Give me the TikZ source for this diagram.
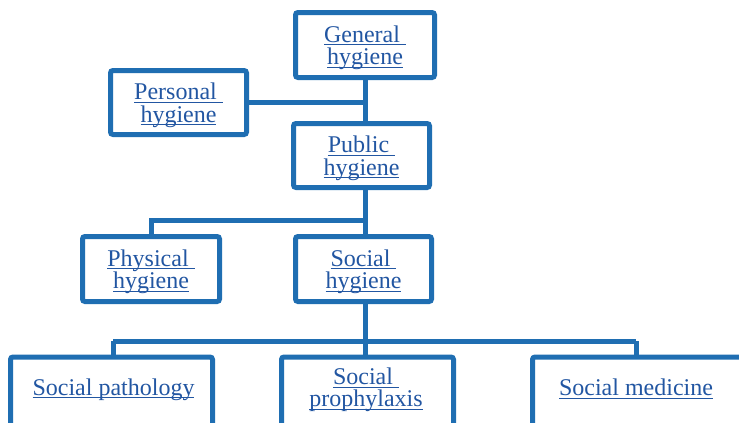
\documentclass[tikz,border=0pt]{standalone}
\usepackage{fontspec}
\setmainfont{Liberation Serif}
\usepackage{tikz}
\usetikzlibrary{positioning, calc}

\definecolor{boxblue}{RGB}{31,110,178}
\definecolor{textblue}{RGB}{34,86,162}

\tikzset{
  hbox/.style={draw=boxblue, line width=5pt, fill=white, rounded corners=2.5pt,
    inner sep=0pt, align=center, text=textblue,
    font=\fontsize{24}{22.5}\selectfont},
  htxt/.style={inner sep=0pt, align=center, text=textblue,
    font=\fontsize{24}{22.5}\selectfont},
  link/.style={draw=boxblue, line width=5pt}
}
% gạch chân sát chân chữ
\newsavebox{\hlbox}
\newcommand{\hl}[1]{\leavevmode\sbox{\hlbox}{#1}\rlap{\rule[-3pt]{\wd\hlbox}{0.9pt}}\usebox{\hlbox}}
% nhãn hai dòng, hạ thấp một chút trong ô
\newcommand{\twoline}[2]{\rule{0pt}{22pt}\hl{#1\ }\\\hl{#2}}

\begin{document}
\begin{tikzpicture}[x=1pt, y=-1pt]

        % Khung trang
        \useasboundingbox (0,0) rectangle (739,423);
        \clip (0,0) rectangle (739,423);

        % Các ô phía trên
        \node[hbox, minimum width=139, minimum height=65] (gen) at (365,45) {\twoline{General}{hygiene}}; % General
        \node[hbox, minimum width=136, minimum height=64] (pers) at (178.5,102.5) {\twoline{Personal}{hygiene}}; % Personal
        \node[hbox, minimum width=136, minimum height=64] (pub) at (361.5,155.5) {\twoline{Public}{hygiene}}; % Public
        \node[hbox, minimum width=137, minimum height=65] (phys) at (151,269) {\twoline{Physical}{hygiene}}; % Physical
        \node[hbox, minimum width=136, minimum height=65] (soc) at (363.5,269) {\twoline{Social}{hygiene}}; % Social

        % Các ô phía dưới (bị cắt ở mép trang)
        \node[hbox, anchor=north, minimum width=202, minimum height=100] (pathbox) at (111.5,354.5) {};
        \node[hbox, anchor=north, minimum width=172, minimum height=100] (prophbox) at (367.5,354.5) {};
        \node[hbox, anchor=north, minimum width=225, minimum height=100] (medbox) at (645,354.5) {};
        \node[htxt] (path) at (113.5,389.5) {\hl{Social pathology}};
        \node[htxt] (proph) at (366,390) {\hl{Social\ }\\\hl{prophylaxis}};
        \node[htxt] (med) at (636,389) {\hl{Social medicine}};

        % Đường nối
        \coordinate (midbus) at (365,220);
        \coordinate (dropL) at (113,341);
        \coordinate (dropR) at (636,341);
        \draw[link] (gen.south) -- (gen.south |- pub.north);
        \draw[link] (pers.east) -- (pers.east -| gen.south);
        \draw[link] (pub.south -| gen.south) -- (soc.north -| gen.south);
        \draw[link] (midbus) -| (phys.north);
        \draw[link] (soc.south -| gen.south) -- (prophbox.north -| gen.south);
        \draw[link] (dropL) -- (dropR);
        \draw[link] (dropL) -- (dropL |- pathbox.north);
        \draw[link] (dropR) -- (dropR |- medbox.north);

\end{tikzpicture}
\end{document}
